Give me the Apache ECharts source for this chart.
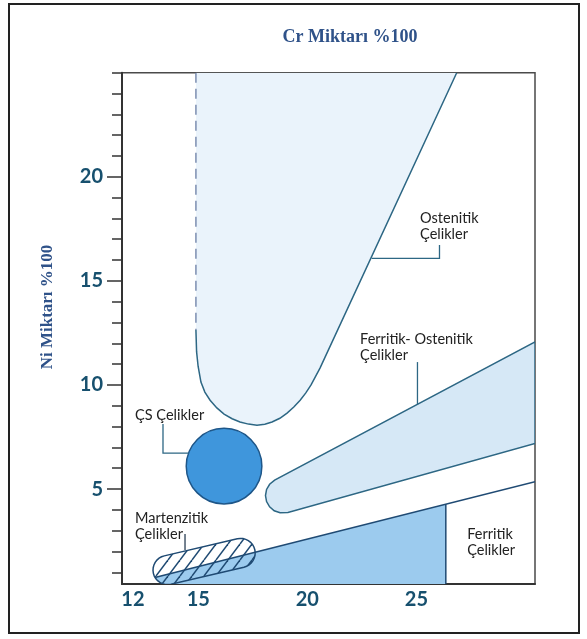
<!DOCTYPE html>
<html>
<head>
<meta charset="utf-8">
<script src="https://cdn.jsdelivr.net/npm/echarts@6/dist/echarts.min.js"></script>
<style>
  html, body { margin: 0; padding: 0; background: #fff; }
  #main { width: 587px; height: 639px; }
</style>
</head>
<body>
<div id="main"></div>
<script>
// Cr - Ni diyagrami: paslanmaz celik turleri
var crEtiket = [12, 15, 20, 25];
var niEtiket = [5, 10, 15, 20];
var niCentik = [1, 2, 3, 4, 5, 6, 7, 8, 9, 10, 11, 12, 13, 14, 15, 16, 17, 18, 19, 20, 21, 22, 23, 24, 25];
var crAralik = [11.5, 30.44];
var niAralik = [0.44, 25];

// ostenitik bolge (Cr, Ni)
var ostenitikKesik = [[14.89, 25.0], [14.89, 12.64]];
var ostenitikSinir = [[14.89, 12.64], [14.92, 11.6], [14.99, 10.9], [15.12, 10.14], [15.3, 9.66], [15.54, 9.27],
  [15.85, 8.9], [16.18, 8.6], [16.55, 8.38], [16.91, 8.22], [17.3, 8.12], [17.69, 8.07], [18.05, 8.11],
  [18.38, 8.22], [18.74, 8.4], [19.07, 8.65], [19.38, 8.94], [19.67, 9.27], [19.93, 9.62], [20.17, 10.0],
  [20.58, 10.81], [26.85, 25.0]];

// ferritik-ostenitik bant
var ferritOstenit = [[30.44, 12.07], [18.50, 5.43], [18.27, 5.23], [18.13, 4.98], [18.08, 4.69], [18.13, 4.40],
  [18.27, 4.15], [18.48, 3.96], [18.75, 3.86], [19.11, 3.88], [30.44, 7.19]];

// CS celikler
var csMerkez = [16.18, 6.10];
var csYaricap = [1.73, 1.82];

// martenzitik celikler (kapsul uclari ve yari kalinlik, Ni)
var martenzitUclar = [[13.59, 1.11], [16.94, 1.93]];
var martenzitYari = 0.70;

// ferritik bolge ve sinirlari
var ferritAlan = [[13.01, 0.75], [13.20, 0.557], [13.38, 0.447], [13.61, 0], [26.35, 0], [26.35, 4.27]];
var ferritHat = [[13.01, 0.75], [30.44, 5.35]];
var ferritDikey = [[26.35, 4.27], [26.35, 0]];

var etiketAdlari = ['Ostenitik\nÇelikler', 'Ferritik- Ostenitik\nÇelikler', 'ÇS Çelikler', 'Martenzitik\nÇelikler', 'Ferritik\nÇelikler'];
var etiketYeri = [[25.17, 18.40], [22.42, 12.60], [12.10, 8.95], [12.10, 4.00], [27.33, 3.22]];
var gostergeler = [
  [[26.06, 16.72], [26.06, 16.08], [22.95, 16.08]],
  [[25.05, 11.10], [25.05, 9.06]],
  [[13.38, 8.12], [13.38, 6.73], [14.55, 6.73]],
  [[14.39, 2.84], [14.39, 2.07]]
];

var myChart = echarts.init(document.getElementById('main'));

// tarama deseni
var desen = document.createElement('canvas');
desen.width = 12;
desen.height = 16;
(function () {
  var c = desen.getContext('2d');
  c.strokeStyle = '#1f4a73';
  c.lineWidth = 1.5;
  for (var k = -1; k <= 1; k++) {
    c.beginPath();
    c.moveTo(k * 12, 16);
    c.lineTo(k * 12 + 12, 0);
    c.stroke();
  }
})();

function kor(api, dizi) {
  return dizi.map(function (p) { return api.coord(p); });
}

function ozel(cizici) {
  return {
    type: 'custom',
    coordinateSystem: 'cartesian2d',
    clip: true,
    silent: true,
    data: [[20, 10]],
    renderItem: cizici
  };
}

var teal = '#2d6784';
var lacivert = '#1f4a73';

var seriler = [
  // ostenitik dolgu
  ozel(function (params, api) {
    return {
      type: 'polygon',
      shape: { points: kor(api, ostenitikKesik.concat(ostenitikSinir.slice(1))) },
      style: { fill: '#eaf3fb' }
    };
  }),
  ozel(function (params, api) {
    return {
      type: 'group',
      children: [
        { type: 'polyline', shape: { points: kor(api, ostenitikSinir) }, style: { fill: null, stroke: teal, lineWidth: 1.5 } },
        { type: 'polyline', shape: { points: kor(api, ostenitikKesik) }, style: { fill: null, stroke: '#7b8db0', lineWidth: 1.5, lineDash: [10, 6] } }
      ]
    };
  }),
  // ferritik-ostenitik
  ozel(function (params, api) {
    return {
      type: 'polygon',
      shape: { points: kor(api, ferritOstenit) },
      style: { fill: '#d6e8f6', stroke: teal, lineWidth: 1.5 }
    };
  }),
  // ferritik mavi alan
  ozel(function (params, api) {
    return {
      type: 'group',
      children: [
        { type: 'polygon', shape: { points: kor(api, ferritAlan) }, style: { fill: '#9ccbee' } },
        { type: 'polyline', shape: { points: kor(api, ferritHat) }, style: { fill: null, stroke: lacivert, lineWidth: 1.5 } },
        { type: 'polyline', shape: { points: kor(api, ferritDikey) }, style: { fill: null, stroke: lacivert, lineWidth: 1.5 } }
      ]
    };
  }),
  // martenzitik kapsul
  ozel(function (params, api) {
    var a = api.coord(martenzitUclar[0]);
    var b = api.coord(martenzitUclar[1]);
    var r = api.size([0, martenzitYari])[1];
    var aci = Math.atan2(b[1] - a[1], b[0] - a[0]);
    var pts = [];
    var i, t;
    for (i = 0; i <= 16; i++) {
      t = aci - Math.PI / 2 + Math.PI * i / 16;
      pts.push([b[0] + r * Math.cos(t), b[1] + r * Math.sin(t)]);
    }
    for (i = 0; i <= 16; i++) {
      t = aci + Math.PI / 2 + Math.PI * i / 16;
      pts.push([a[0] + r * Math.cos(t), a[1] + r * Math.sin(t)]);
    }
    return {
      type: 'polygon',
      shape: { points: pts },
      style: { fill: { image: desen, repeat: 'repeat' }, stroke: lacivert, lineWidth: 1.5 }
    };
  }),
  // CS daire
  ozel(function (params, api) {
    var c = api.coord(csMerkez);
    var s = api.size(csYaricap);
    return {
      type: 'circle',
      shape: { cx: c[0], cy: c[1], r: (s[0] + s[1]) / 2 },
      style: { fill: '#3f96dc', stroke: '#1e5688', lineWidth: 1.5 }
    };
  }),
  // gosterge cizgileri ve etiketler
  ozel(function (params, api) {
    var ogeler = [];
    gostergeler.forEach(function (g, i) {
      ogeler.push({
        type: 'polyline',
        shape: { points: kor(api, g) },
        style: { fill: null, stroke: i === 3 ? '#2a3f55' : teal, lineWidth: 1.3 }
      });
    });
    etiketAdlari.forEach(function (ad, i) {
      var p = api.coord(etiketYeri[i]);
      ogeler.push({
        type: 'text',
        x: p[0],
        y: p[1],
        style: {
          text: ad,
          fill: '#222',
          font: '14.5px Lato',
          lineHeight: 16,
          align: 'left',
          verticalAlign: 'top'
        }
      });
    });
    return { type: 'group', children: ogeler };
  })
];
seriler[seriler.length - 1].clip = false;

var eksenYazi = { color: '#17506e', fontFamily: 'Lato', fontWeight: 'bold', fontSize: 20 };

option = {
  animation: false,
  backgroundColor: '#fff',
  grid: {
    left: 122,
    right: 52,
    top: 72.7,
    bottom: 55,
    show: true,
    backgroundColor: '#fff',
    borderColor: '#4a4a4a',
    borderWidth: 1.5
  },
  xAxis: {
    type: 'value',
    min: crAralik[0],
    max: crAralik[1],
    splitLine: { show: false },
    axisLine: { show: true, lineStyle: { color: '#333', width: 2 } },
    axisTick: { show: false },
    axisLabel: Object.assign({ customValues: crEtiket, margin: 6 }, eksenYazi)
  },
  yAxis: [
    {
      type: 'value',
      min: niAralik[0],
      max: niAralik[1],
      splitLine: { show: false },
      axisLine: { show: true, lineStyle: { color: '#333', width: 2 } },
      axisTick: { show: true, customValues: niCentik, length: 10, lineStyle: { color: '#333', width: 1.5 } },
      axisLabel: { show: false }
    },
    {
      type: 'value',
      position: 'left',
      min: niAralik[0],
      max: niAralik[1],
      splitLine: { show: false },
      axisLine: { show: false },
      axisTick: { show: true, customValues: niEtiket, length: 15, lineStyle: { color: '#333', width: 1.5 } },
      axisLabel: Object.assign({ customValues: niEtiket, margin: 19 }, eksenYazi)
    }
  ],
  graphic: [
    {
      type: 'rect',
      shape: { x: 9, y: 4, width: 570, height: 629 },
      style: { fill: null, stroke: '#222', lineWidth: 2 },
      z: -10
    },
    {
      type: 'text',
      x: 350,
      y: 37,
      style: {
        text: 'Cr Miktarı %100',
        fill: '#2f5289',
        font: 'bold 18px "Liberation Serif"',
        align: 'center',
        verticalAlign: 'middle'
      }
    },
    {
      type: 'text',
      x: 48,
      y: 307,
      rotation: Math.PI / 2,
      style: {
        text: 'Ni Miktarı %100',
        fill: '#2f5289',
        font: 'bold 17px "Liberation Serif"',
        align: 'center',
        verticalAlign: 'middle'
      }
    }
  ],
  series: seriler
};
myChart.setOption(option);
window.addEventListener('resize', function () {
  myChart.resize();
});
</script>
</body>
</html>
